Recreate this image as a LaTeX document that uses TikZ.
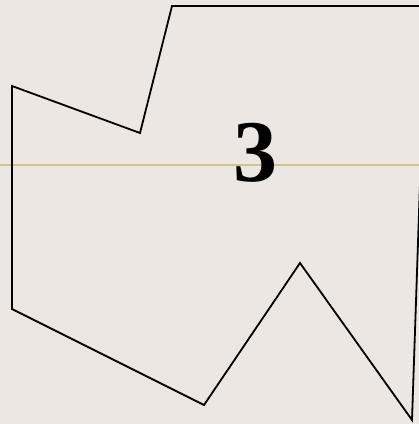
\documentclass[tikz,border=0pt]{standalone}
\usepackage{fontspec}
\setmainfont{Liberation Serif}
\definecolor{bg}{HTML}{ECE7E3}
\definecolor{tan}{HTML}{D4C28C}
\begin{document}
\begin{tikzpicture}[x=1pt,y=-1pt]
\fill[bg] (0,0) rectangle (419,424);
\useasboundingbox (0,0) rectangle (419,424);
\draw[tan,line width=1.6pt] (0,165) -- (419,165);
\begin{scope}
\clip (0,0) rectangle (419,424);
\draw[black,line width=1.8pt,line join=miter]
  (172,6) -- (426,6) -- (412,420) -- (300,263) -- (204,405) -- (12,309) -- (12,86) -- (140,133) -- cycle;
\end{scope}
\node[font=\fontsize{88}{88}\selectfont\bfseries,inner sep=0pt] (n3) at (255,153) {3};
\end{tikzpicture}
\end{document}
